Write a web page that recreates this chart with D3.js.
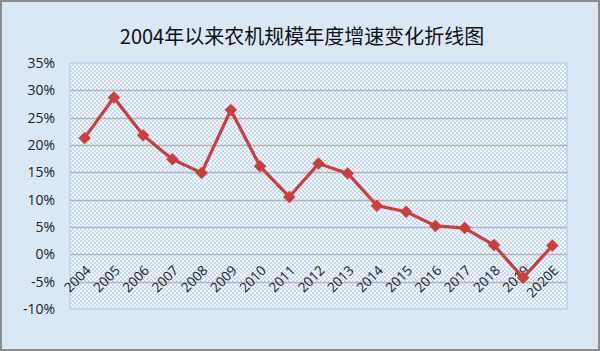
<!DOCTYPE html>
<html>
<head>
<meta charset="utf-8">
<script src="https://cdn.jsdelivr.net/npm/d3@7"></script>
<style>
  body { margin: 0; background: #fff; }
  svg { display: block; }
</style>
</head>
<body>
<div id="chart"></div>
<script>
const years = ['2004','2005','2006','2007','2008','2009','2010','2011','2012','2013','2014','2015','2016','2017','2018','2019','2020E'];
const growth = [21.3, 28.7, 21.8, 17.4, 14.9, 26.4, 16.1, 10.5, 16.6, 14.8, 8.9, 7.8, 5.2, 4.8, 1.7, -4.3, 1.6];
const yTicks = [-10, -5, 0, 5, 10, 15, 20, 25, 30, 35];
const title = '2004年以来农机规模年度增速变化折线图';

const W = 600, H = 351;
const plot = {left: 70, right: 567, top: 63, bottom: 309};

const svg = d3.select('#chart').append('svg')
  .attr('width', W)
  .attr('height', H);

const defs = svg.append('defs');
const pat = defs.append('pattern')
  .attr('id', 'dots')
  .attr('width', 4).attr('height', 4)
  .attr('patternUnits', 'userSpaceOnUse');
pat.append('rect').attr('width', 4).attr('height', 4).attr('fill', '#f2f7fd');
pat.append('rect').attr('x', 0).attr('y', 0).attr('width', 2).attr('height', 2).attr('fill', '#c6d9f1');
pat.append('rect').attr('x', 2).attr('y', 2).attr('width', 2).attr('height', 2).attr('fill', '#c6d9f1');

// outer background
svg.append('rect')
  .attr('x', 1).attr('y', 1)
  .attr('width', W - 2).attr('height', H - 2)
  .attr('fill', '#dae8f5')
  .attr('stroke', '#8c8c8c')
  .attr('stroke-width', 2);

svg.append('text')
  .attr('x', 302).attr('y', 44)
  .attr('text-anchor', 'middle')
  .attr('font-family', '"Noto Sans CJK SC", sans-serif')
  .attr('font-size', 20)
  .attr('fill', '#111')
  .text(title);

const x = d3.scaleBand()
  .domain(years)
  .range([plot.left, plot.right]);

const y = d3.scaleLinear()
  .domain([-10, 35])
  .range([plot.bottom, plot.top]);

svg.append('rect')
  .attr('x', plot.left).attr('y', plot.top)
  .attr('width', plot.right - plot.left)
  .attr('height', plot.bottom - plot.top)
  .attr('fill', 'url(#dots)')
  .attr('stroke', '#a9c6ea')
  .attr('stroke-width', 1);

// gridlines
svg.append('g')
  .selectAll('line')
  .data(yTicks.filter(d => d > -10 && d < 35))
  .enter().append('line')
  .attr('x1', plot.left).attr('x2', plot.right)
  .attr('y1', d => Math.round(y(d)) + 0.5)
  .attr('y2', d => Math.round(y(d)) + 0.5)
  .attr('stroke', '#b5b5b5')
  .attr('stroke-width', 1.5);

const yAxis = svg.append('g')
  .attr('transform', `translate(${plot.left},0)`)
  .call(d3.axisLeft(y).tickValues(yTicks).tickFormat(d => d + '%').tickSize(0).tickPadding(15));
yAxis.select('.domain').remove();
yAxis.selectAll('text')
  .attr('font-family', '"Open Sans", sans-serif')
  .attr('font-size', 14)
  .attr('fill', '#222');

// category labels
svg.append('g')
  .selectAll('text')
  .data(years)
  .enter().append('text')
  .attr('transform', d => `translate(${x(d) + x.bandwidth() / 2 + 7},${y(0) + 17}) rotate(-45)`)
  .attr('text-anchor', 'end')
  .attr('font-family', '"Open Sans", sans-serif')
  .attr('font-size', 13.5)
  .attr('fill', '#222')
  .text(d => d);

const line = d3.line()
  .x((d, i) => x(years[i]) + x.bandwidth() / 2)
  .y(d => y(d));

svg.append('path')
  .datum(growth)
  .attr('fill', 'none')
  .attr('stroke', '#c8403d')
  .attr('stroke-width', 3.2)
  .attr('stroke-linejoin', 'round')
  .attr('d', line);

svg.append('g')
  .selectAll('path')
  .data(growth)
  .enter().append('path')
  .attr('transform', (d, i) => `translate(${x(years[i]) + x.bandwidth() / 2},${y(d)})`)
  .attr('d', d3.symbol(d3.symbolDiamond2, 100))
  .attr('fill', '#c8403d');
</script>
</body>
</html>
